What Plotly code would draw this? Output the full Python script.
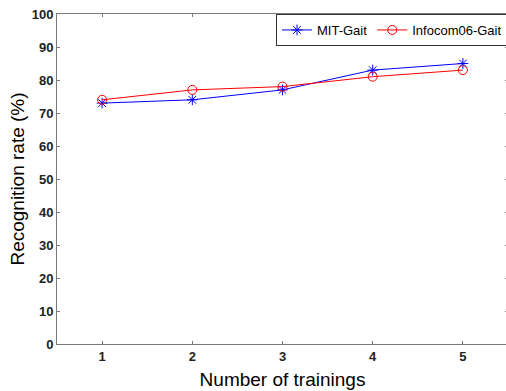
import plotly.graph_objects as go

trainings = [1, 2, 3, 4, 5]
mit_gait = [73, 74, 77, 83, 85]
infocom_gait = [74, 77, 78, 81, 83]
y_ticks = [0, 10, 20, 30, 40, 50, 60, 70, 80, 90, 100]

fig = go.Figure()
fig.add_trace(go.Scatter(
    x=trainings, y=mit_gait, name="MIT-Gait", mode="lines+markers",
    line=dict(color="#0000ff", width=1),
    marker=dict(symbol="asterisk-open", size=9, line=dict(color="#0000ff", width=1), color="#0000ff"),
))
fig.add_trace(go.Scatter(
    x=trainings, y=infocom_gait, name="Infocom06-Gait", mode="lines+markers",
    line=dict(color="#ff0000", width=1),
    marker=dict(symbol="circle-open", size=9, line=dict(color="#ff0000", width=1), color="#ff0000"),
))

axis_common = dict(
    showline=True, linecolor="#7a7a7a", linewidth=1, mirror="ticks",
    ticks="inside", ticklen=3, tickcolor="#7a7a7a", showgrid=False, zeroline=False,
    tickfont=dict(family="Liberation Sans, Arial", size=13, color="#222222"),
)

fig.update_layout(
    width=508, height=391,
    margin=dict(l=57, r=0, t=14, b=47),
    paper_bgcolor="white", plot_bgcolor="white",
    font=dict(family="Liberation Sans, Arial", color="#000000"),
    xaxis=dict(range=[0.5, 5.5], tickvals=trainings,
               ticktext=[f"<b>{v}</b>" for v in trainings],
               title=dict(text="Number of trainings", font=dict(size=19), standoff=10), **axis_common),
    yaxis=dict(range=[0, 100], tickvals=y_ticks,
               ticktext=[f"<b>{v}</b>" for v in y_ticks],
               title=dict(text="Recognition rate (%)", font=dict(size=19), standoff=2), **axis_common),
    legend=dict(orientation="h", x=1.0, xanchor="right", y=1.0, yanchor="top",
                bgcolor="white", bordercolor="#333333", borderwidth=1,
                font=dict(size=13), itemwidth=30, tracegroupgap=0),
    showlegend=True,
)

fig.write_html(
    "out.html",
    config={"displayModeBar": False},
    post_script="document.body.style.margin='0';document.body.style.overflow='hidden';",
)
